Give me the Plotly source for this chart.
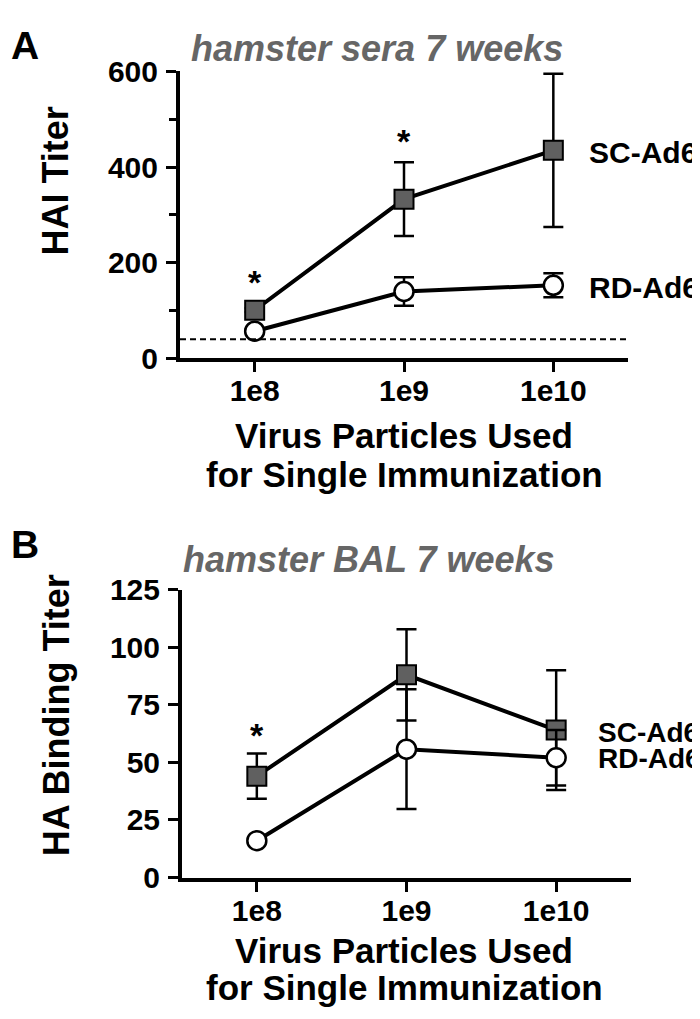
import plotly.graph_objects as go

# ---- data ----
doses = ["1e8", "1e9", "1e10"]
series = ["SC-Ad6", "RD-Ad6"]

# Panel A: HAI titer (hamster sera 7 weeks)
a_sc = [101, 333, 435]
a_sc_err = [4, 77, 160]
a_rd = [57, 140, 153]
a_rd_err = [4, 30, 25]
a_lod = 40
a_sig = [0, 1]          # indices with asterisk
a_sig_y = [160, 455]

# Panel B: HA binding titer (hamster BAL 7 weeks)
b_sc = [44, 88, 64]
b_sc_err = [9.8, 19.8, 26]
b_rd = [16, 55.7, 52]
b_rd_err = [1, 26, 12]
b_sig = [0]
b_sig_y = [62]

W, H = 700, 1019
FONT = "Liberation Sans, Arial, sans-serif"
GRAY = "#666666"

xpos = list(range(len(doses)))

fig = go.Figure()

def add_panel(sc, sc_err, rd, rd_err, xa, ya):
    fig.add_trace(go.Scatter(
        x=xpos, y=sc, xaxis=xa, yaxis=ya, mode="lines+markers",
        line=dict(color="black", width=4),
        marker=dict(symbol="square", size=19, color="#606060",
                    line=dict(color="black", width=2)),
        error_y=dict(type="data", array=sc_err, color="black", thickness=2.5, width=10),
        showlegend=False, cliponaxis=False))
    fig.add_trace(go.Scatter(
        x=xpos, y=rd, xaxis=xa, yaxis=ya, mode="lines+markers",
        line=dict(color="black", width=4),
        marker=dict(symbol="circle", size=19, color="white",
                    line=dict(color="black", width=2.5)),
        error_y=dict(type="data", array=rd_err, color="black", thickness=2.5, width=10),
        showlegend=False, cliponaxis=False))

add_panel(a_sc, a_sc_err, a_rd, a_rd_err, "x", "y")
add_panel(b_sc, b_sc_err, b_rd, b_rd_err, "x2", "y2")

# LOD dashed line panel A
fig.add_shape(type="line", xref="x", yref="y", x0=-0.5, x1=2.5, y0=a_lod, y1=a_lod,
              line=dict(color="black", width=2, dash="6px,4px"))

tickfont = dict(family=FONT, size=30, color="black", weight="bold")
common_x = dict(range=[-0.5, 2.5], tickvals=xpos, ticktext=doses, showline=True,
                linecolor="black", linewidth=4, ticks="outside", ticklen=10, tickwidth=3,
                tickcolor="black", showgrid=False, zeroline=False, tickfont=tickfont,
                fixedrange=True, ticklabelstandoff=-7)
common_y = dict(showline=True, linecolor="black", linewidth=4, ticks="outside",
                ticklen=10, tickwidth=3, tickcolor="black", showgrid=False,
                zeroline=False, tickfont=tickfont, ticklabelstandoff=2)

def py(p):
    return 1 - p / H

fig.update_layout(
    width=W, height=H, margin=dict(l=0, r=0, t=0, b=0),
    paper_bgcolor="white", plot_bgcolor="white", showlegend=False,
    xaxis=dict(domain=[172 / W, 620 / W], anchor="y", **common_x),
    yaxis=dict(domain=[py(345), py(48)], anchor="x", range=[0, 600],
               tickvals=[0, 200, 400, 600],
               minor=dict(tickvals=[100, 300, 500], ticklen=7, tickwidth=3,
                          tickcolor="black", ticks="outside"),
               **common_y),
    xaxis2=dict(domain=[174 / W, 623 / W], anchor="y2", **common_x),
    yaxis2=dict(domain=[py(882), py(584)], anchor="x2", range=[0, 125],
                tickvals=[0, 25, 50, 75, 100, 125], **common_y),
)

ann = []
def text(x, y, s, size, color="black", italic=False, angle=0, xanchor="center",
         xref="paper", yref="paper", yshift=0):
    ann.append(dict(x=x, y=y, xref=xref, yref=yref, text=s, showarrow=False,
                    xanchor=xanchor, yanchor="middle", textangle=angle, yshift=yshift,
                    borderpad=0,
                    font=dict(family=FONT, size=size, color=color, weight="bold",
                              style="italic" if italic else "normal")))

# panel letters
text(17 / W, py(21), "A", 39)
text(17 / W, py(537), "B", 39)
# titles
text(369 / W, py(24), "hamster sera 7 weeks", 36, color=GRAY, italic=True)
text(361 / W, py(553), "hamster BAL 7 weeks", 36, color=GRAY, italic=True)
# y titles
text(48 / W, py(162), "HAI Titer", 36, angle=-90)
text(48 / W, py(714), "HA Binding Titer", 36, angle=-90)
# x titles
text(396 / W, py(425), "Virus Particles Used", 35)
text(396 / W, py(465), "for Single Immunization", 35)
text(396 / W, py(957), "Virus Particles Used", 35)
text(396 / W, py(996), "for Single Immunization", 35)
# series labels
text(580 / W, py(132), series[0], 30, xanchor="left")
text(580 / W, py(272), series[1], 30, xanchor="left")
text(589 / W, py(732), series[0], 28, xanchor="left")
text(589 / W, py(759), series[1], 28, xanchor="left")
# asterisks
for i, yv in zip(a_sig, a_sig_y):
    text(xpos[i], yv, "*", 34, xref="x", yref="y")
for i, yv in zip(b_sig, b_sig_y):
    text(xpos[i], yv, "*", 34, xref="x2", yref="y2")

fig.update_layout(annotations=ann)
fig.write_html("out.html")
